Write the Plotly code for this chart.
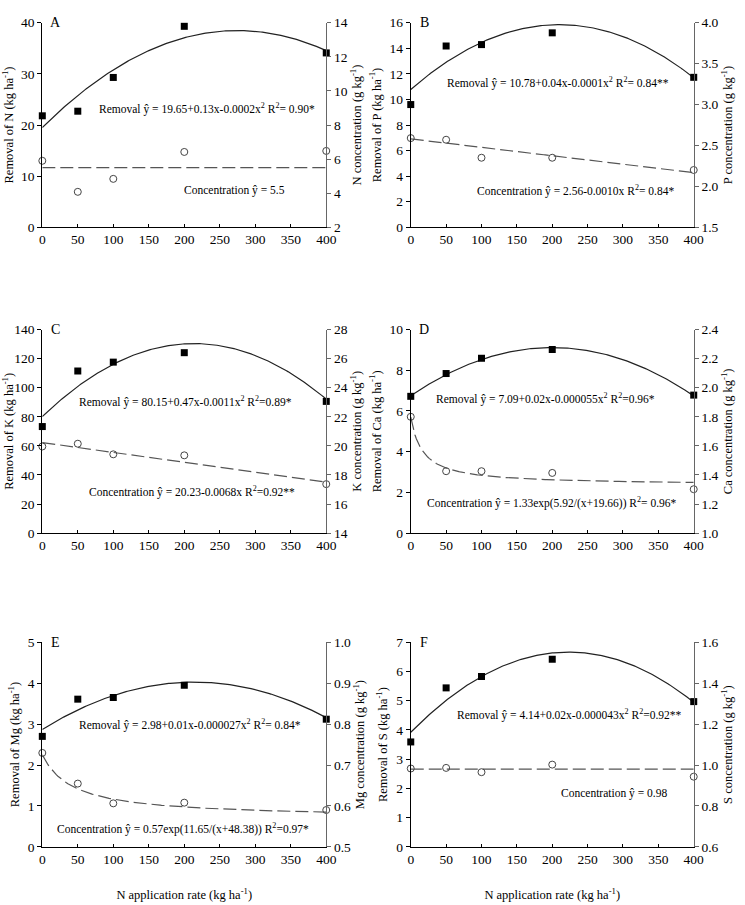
import numpy as np
import plotly.graph_objects as go

x_rates = [0, 50, 100, 200, 400]

# Removal (left axis) observed values
rem_N = [21.8, 22.7, 29.3, 39.3, 34.1]
rem_P = [9.6, 14.18, 14.29, 15.21, 11.73]
rem_K = [73.3, 111.5, 117.6, 124.1, 90.6]
rem_Ca = [6.72, 7.84, 8.59, 9.02, 6.78]
rem_Mg = [2.70, 3.61, 3.65, 3.95, 3.12]
rem_S = [3.59, 5.44, 5.83, 6.42, 4.97]

# Concentration (right axis) observed values
conc_N = [5.9, 4.08, 4.84, 6.42, 6.48]
conc_P = [2.59, 2.57, 2.35, 2.35, 2.20]
conc_K = [19.96, 20.15, 19.42, 19.35, 17.37]
conc_Ca = [1.80, 1.426, 1.426, 1.414, 1.302]
conc_Mg = [0.7295, 0.6546, 0.6063, 0.608, 0.590]
conc_S = [0.983, 0.986, 0.965, 1.002, 0.943]

# Fitted removal curves (quadratic a + b x + c x^2) as drawn
rem_fit = {
    "A": [19.5, 0.138, -0.000251],
    "B": [10.78, 0.0483, -0.000115],
    "C": [80.15, 0.47, -0.0011],
    "D": [6.75, 0.0237, -0.0000593],
    "E": [2.87, 0.0108, -0.0000252],
    "F": [3.92, 0.0246, -0.0000551],
}
# Fitted concentration curves
conc_fit = {
    "A": ("const", [5.5]),
    "B": ("lin", [2.58, -0.00103]),
    "C": ("lin", [20.23, -0.0068]),
    "D": ("exp", [1.33, 5.92, 19.66]),
    "E": ("exp", [0.57, 11.65, 48.38]),
    "F": ("const", [0.98]),
}

panel_letters = ["A", "B", "C", "D", "E", "F"]
removals = [rem_N, rem_P, rem_K, rem_Ca, rem_Mg, rem_S]
concs = [conc_N, conc_P, conc_K, conc_Ca, conc_Mg, conc_S]
left_titles = ["Removal of N (kg ha<sup>-1</sup>)", "Removal of P (kg ha<sup>-1</sup>)",
               "Removal of K (kg ha<sup>-1</sup>)", "Removal of Ca (kg ha<sup>-1</sup>)",
               "Removal of Mg (kg ha<sup>-1</sup>)", "Removal of S (kg ha<sup>-1</sup>)"]
right_titles = ["N concentration (g kg<sup>-1</sup>)", "P concentration (g kg<sup>-1</sup>)",
                "K concentration (g kg<sup>-1</sup>)", "Ca concentration (g kg<sup>-1</sup>)",
                "Mg concentration (g kg<sup>-1</sup>)", "S concentration (g kg<sup>-1</sup>)"]
left_ranges = [[0, 40], [0, 16], [0, 140], [0, 10], [0, 5], [0, 7]]
left_dtick = [10, 2, 20, 2, 1, 1]
right_ranges = [[2, 14], [1.5, 4.0], [14, 28], [1.0, 2.4], [0.5, 1.0], [0.6, 1.6]]
right_dtick = [2, 0.5, 2, 0.2, 0.1, 0.2]
right_fmt = ["d", ".1f", "d", ".1f", ".1f", ".1f"]

rem_labels = [
    "Removal ŷ = 19.65+0.13x-0.0002x<sup>2</sup> R<sup>2</sup>= 0.90*",
    "Removal ŷ = 10.78+0.04x-0.0001x<sup>2</sup> R<sup>2</sup>= 0.84**",
    "Removal ŷ = 80.15+0.47x-0.0011x<sup>2</sup> R<sup>2</sup>=0.89*",
    "Removal ŷ = 7.09+0.02x-0.000055x<sup>2</sup> R<sup>2</sup>=0.96*",
    "Removal ŷ = 2.98+0.01x-0.000027x<sup>2</sup> R<sup>2</sup>= 0.84*",
    "Removal ŷ = 4.14+0.02x-0.000043x<sup>2</sup> R<sup>2</sup>=0.92**",
]
conc_labels = [
    "Concentration ŷ = 5.5",
    "Concentration ŷ = 2.56-0.0010x R<sup>2</sup>= 0.84*",
    "Concentration ŷ = 20.23-0.0068x R<sup>2</sup>=0.92**",
    "Concentration ŷ = 1.33exp(5.92/(x+19.66)) R<sup>2</sup>= 0.96*",
    "Concentration ŷ = 0.57exp(11.65/(x+48.38)) R<sup>2</sup>=0.97*",
    "Concentration ŷ = 0.98",
]
rem_label_pos = [(232, 23.2), (208, 11.3), (202, 90.4), (190, 6.6), (208, 3.0), (225, 4.53)]
conc_label_pos = [(271, 7.1), (233, 2.9), (211, 28.5), (199, 1.49), (198, 0.44), (288, 1.81)]

W, H = 745, 905
col_px = [(40, 329), (415, 703)]
row_px = [(16, 224), (328, 535), (646, 854)]

FONT = "Liberation Serif, Times New Roman, serif"
fig = go.Figure()
xs = np.linspace(0, 400, 201)

annotations = []
for i in range(6):
    r, c = divmod(i, 2)
    n = i + 1
    xa = "x" if n == 1 else f"x{n}"
    ya = "y" if n == 1 else f"y{n}"
    ya2 = f"y{n + 6}"
    xd = [col_px[c][0] / W, col_px[c][1] / W]
    yd = [1 - row_px[r][1] / H, 1 - row_px[r][0] / H]
    letter = panel_letters[i]

    a, b, cc = rem_fit[letter]
    fig.add_trace(go.Scatter(x=xs, y=a + b * xs + cc * xs ** 2, mode="lines",
                             line=dict(color="#222", width=1.2), xaxis=xa, yaxis=ya,
                             showlegend=False, hoverinfo="skip"))
    kind, p = conc_fit[letter]
    if kind == "const":
        yc = np.full_like(xs, p[0])
    elif kind == "lin":
        yc = p[0] + p[1] * xs
    else:
        yc = p[0] * np.exp(p[1] / (xs + p[2]))
    fig.add_trace(go.Scatter(x=xs, y=yc, mode="lines",
                             line=dict(color="#555", width=1.2, dash="13px,5px"),
                             xaxis=xa, yaxis=ya2, showlegend=False, hoverinfo="skip"))
    fig.add_trace(go.Scatter(x=x_rates, y=removals[i], mode="markers",
                             marker=dict(symbol="square", size=7, color="black"),
                             xaxis=xa, yaxis=ya, showlegend=False, cliponaxis=False))
    fig.add_trace(go.Scatter(x=x_rates, y=concs[i], mode="markers",
                             marker=dict(symbol="circle-open", size=7, color="#444",
                                         line=dict(width=1)),
                             xaxis=xa, yaxis=ya2, showlegend=False, cliponaxis=False))

    tickfont = dict(family=FONT, size=13.5, color="black")
    titlefont = dict(family=FONT, size=12.5, color="black")
    xkey = "xaxis" if n == 1 else f"xaxis{n}"
    ykey = "yaxis" if n == 1 else f"yaxis{n}"
    fig.layout[xkey] = dict(
        domain=xd, anchor=ya, range=[0, 400], tickmode="array",
        tickvals=list(range(0, 401, 50)), ticks="inside", ticklen=3,
        tickcolor="black", showline=True, linecolor="black", linewidth=1,
        showgrid=False, zeroline=False, tickfont=tickfont,
        title=dict(text="N application rate (kg ha<sup>-1</sup>)", font=titlefont,
                   standoff=24) if r == 2 else None,
    )
    fig.layout[ykey] = dict(
        domain=yd, anchor=xa, range=left_ranges[i], dtick=left_dtick[i], tick0=0,
        ticks="outside", ticklen=4, tickcolor="black", showline=True,
        linecolor="black", linewidth=1, showgrid=False, zeroline=False,
        tickfont=tickfont, title=dict(text=left_titles[i], font=titlefont, standoff=5),
    )
    fig.layout[f"yaxis{n + 6}"] = dict(
        overlaying=ya, anchor=xa, side="right", range=right_ranges[i],
        dtick=right_dtick[i], tick0=right_ranges[i][0], tickformat=right_fmt[i],
        ticks="outside", ticklen=4, tickcolor="#666", showline=True,
        linecolor="#666", linewidth=1, showgrid=False, zeroline=False,
        tickfont=tickfont, title=dict(text=right_titles[i], font=titlefont, standoff=5),
    )

    annotations.append(dict(text=letter, xref=f"{xa} domain", yref=f"{ya} domain",
                            x=0.047, y=1.0, xanchor="center", yanchor="middle",
                            showarrow=False,
                            font=dict(family=FONT, size=14, color="black")))
    annotations.append(dict(text=rem_labels[i], xref=xa, yref=ya,
                            x=rem_label_pos[i][0], y=rem_label_pos[i][1],
                            xanchor="center", yanchor="middle", showarrow=False,
                            font=dict(family=FONT, size=11.5, color="black")))
    annotations.append(dict(text=conc_labels[i], xref=xa, yref=ya,
                            x=conc_label_pos[i][0], y=conc_label_pos[i][1],
                            xanchor="center", yanchor="middle", showarrow=False,
                            font=dict(family=FONT, size=11.5, color="black")))

fig.update_layout(width=W, height=H, margin=dict(l=0, r=0, t=0, b=0),
                  plot_bgcolor="white", paper_bgcolor="white",
                  annotations=annotations, showlegend=False)

fig.write_html("out.html")
